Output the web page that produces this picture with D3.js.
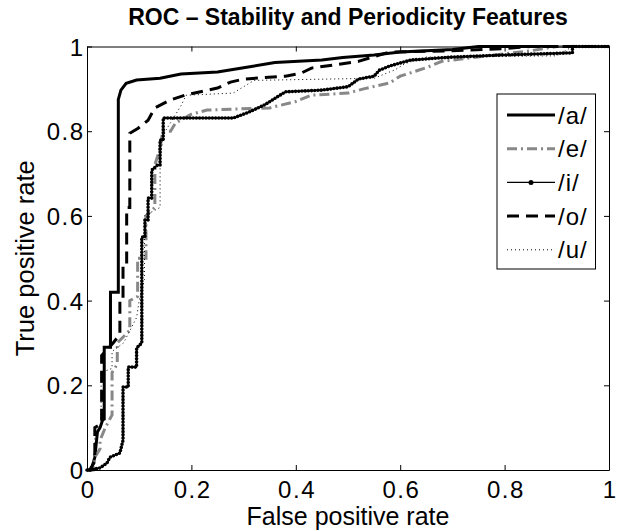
<!DOCTYPE html>
<html>
<head>
  <title>ROC - Stability and Periodicity Features</title>
  <script src="https://d3js.org/d3.v7.min.js"></script>
  <style>
    body { margin: 0; background: #fff; }
    text { font-family: "Liberation Sans", Arial, sans-serif; fill: #000; }
    .line { fill: none; }
  </style>
</head>
<body>
  <svg id="roc" width="619" height="531"></svg>

  <script>
    // ROC points [false positive rate, true positive rate]
    var rocA = [[0,0],[0.008,0],[0.015,0.03],[0.02,0.09],[0.025,0.1],[0.03,0.118],[0.033,0.12],[0.033,0.29],
      [0.045,0.29],[0.045,0.42],[0.06,0.42],[0.06,0.875],[0.065,0.897],[0.075,0.913],[0.095,0.921],[0.14,0.925],
      [0.18,0.935],[0.25,0.94],[0.3,0.95],[0.36,0.962],[0.45,0.968],[0.49,0.974],[0.55,0.98],[0.6,0.987],
      [0.7,0.993],[0.75,1],[1,1]];
    var rocE = [[0,0],[0.012,0],[0.015,0.03],[0.025,0.05],[0.025,0.07],[0.035,0.1],[0.048,0.13],[0.048,0.23],
      [0.058,0.25],[0.058,0.3],[0.082,0.33],[0.082,0.4],[0.097,0.41],[0.097,0.5],[0.113,0.5],[0.113,0.6],
      [0.13,0.62],[0.13,0.72],[0.14,0.76],[0.145,0.8],[0.16,0.8],[0.17,0.82],[0.2,0.84],[0.23,0.85],
      [0.35,0.855],[0.4,0.87],[0.43,0.885],[0.5,0.89],[0.53,0.9],[0.58,0.914],[0.6,0.93],[0.65,0.95],
      [0.68,0.965],[0.78,0.98],[0.85,0.99],[0.9,1],[1,1]];
    var rocI = [[0,0],[0.006,0],[0.025,0.005],[0.038,0.016],[0.044,0.03],[0.063,0.04],[0.069,0.07],[0.069,0.196],
      [0.079,0.196],[0.079,0.243],[0.095,0.243],[0.095,0.288],[0.105,0.3],[0.105,0.55],[0.111,0.55],[0.111,0.59],
      [0.117,0.59],[0.117,0.642],[0.124,0.642],[0.124,0.708],[0.135,0.72],[0.14,0.72],[0.14,0.779],[0.146,0.779],
      [0.146,0.831],[0.28,0.831],[0.31,0.845],[0.34,0.862],[0.38,0.893],[0.45,0.897],[0.5,0.905],[0.52,0.923],
      [0.55,0.93],[0.56,0.944],[0.58,0.954],[0.6,0.961],[0.62,0.968],[0.7,0.975],[0.8,0.98],[0.93,0.985],
      [0.93,1],[1,1]];
    var rocO = [[0,0],[0.005,0],[0.015,0.02],[0.015,0.1],[0.028,0.11],[0.028,0.27],[0.05,0.3],[0.063,0.32],
      [0.063,0.394],[0.069,0.394],[0.069,0.48],[0.076,0.48],[0.076,0.62],[0.082,0.62],[0.082,0.795],[0.098,0.807],
      [0.117,0.826],[0.13,0.855],[0.16,0.874],[0.19,0.886],[0.25,0.902],[0.275,0.916],[0.3,0.923],[0.38,0.93],
      [0.41,0.937],[0.43,0.949],[0.47,0.956],[0.52,0.965],[0.56,0.98],[0.58,0.987],[0.7,0.99],[0.8,0.995],
      [0.85,1],[1,1]];
    var rocU = [[0,0],[0.01,0],[0.015,0.05],[0.015,0.09],[0.027,0.1],[0.027,0.23],[0.048,0.24],[0.048,0.28],
      [0.07,0.3],[0.095,0.36],[0.1,0.4],[0.11,0.45],[0.11,0.6],[0.14,0.62],[0.14,0.73],[0.145,0.78],[0.15,0.8],
      [0.16,0.82],[0.18,0.86],[0.19,0.885],[0.28,0.89],[0.32,0.92],[0.55,0.925],[0.59,0.945],[0.61,0.96],
      [0.65,0.975],[0.9,0.978],[0.93,1],[1,1]];

    var seriesNames = ["/a/", "/e/", "/i/", "/o/", "/u/"];
    var xTicks = [0, 0.2, 0.4, 0.6, 0.8, 1];
    var yTicks = [0, 0.2, 0.4, 0.6, 0.8, 1];

    // line look for each vowel (matlab-ish styles)
    var styles = [
      { data: rocA, color: "#000", width: 3, dash: null },
      { data: rocE, color: "#888", width: 3, dash: "10,4,2,4" },
      { data: rocI, color: "#000", width: 1.2, dash: null, beads: true },
      { data: rocO, color: "#000", width: 3, dash: "12,7" },
      { data: rocU, color: "#000", width: 1, dash: "1,3" }
    ];

    // plot box in pixels
    var plotL = 87, plotR = 609, plotT = 46.5, plotB = 470;

    var svg = d3.select("#roc");

    var x = d3.scaleLinear().domain([0, 1]).range([plotL, plotR]);
    var y = d3.scaleLinear().domain([0, 1]).range([plotB, plotT]);

    var line = d3.line()
      .x(function(d) { return x(d[0]); })
      .y(function(d) { return y(d[1]); });

    // curves
    styles.forEach(function(s) {
      svg.append("path")
        .datum(s.data)
        .attr("class", "line")
        .attr("d", line)
        .style("stroke", s.color)
        .style("stroke-width", s.width)
        .style("stroke-dasharray", s.dash);
      if (s.beads) {
        // marker beads along the /i/ curve
        svg.append("path")
          .datum(s.data)
          .attr("class", "line")
          .attr("d", line)
          .style("stroke", s.color)
          .style("stroke-width", 3.6)
          .style("stroke-linecap", "round")
          .style("stroke-dasharray", "0,3.2");
      }
    });

    // axes, ticks pointing inward like matlab
    var fmt = d3.format("~g");
    var xAxis = svg.append("g")
      .attr("transform", "translate(0," + plotB + ")")
      .call(d3.axisBottom(x).tickValues(xTicks).tickSizeInner(-5).tickSizeOuter(0).tickFormat(fmt));
    var yAxis = svg.append("g")
      .attr("transform", "translate(" + plotL + ",0)")
      .call(d3.axisLeft(y).tickValues(yTicks).tickSizeInner(-5).tickSizeOuter(0).tickFormat(fmt));
    svg.append("g")
      .attr("transform", "translate(0," + plotT + ")")
      .call(d3.axisTop(x).tickValues(xTicks).tickSizeInner(-5).tickSizeOuter(0).tickFormat(""));
    svg.append("g")
      .attr("transform", "translate(" + plotR + ",0)")
      .call(d3.axisRight(y).tickValues(yTicks).tickSizeInner(-5).tickSizeOuter(0).tickFormat(""));

    svg.selectAll(".domain, .tick line").attr("stroke", "#000").attr("stroke-width", 1);

    xAxis.selectAll("text")
      .attr("dy", null).attr("y", 28).attr("dx", "0.75px")
      .style("font-size", "24px").style("letter-spacing", "1.5px").attr("font-family", null);
    yAxis.selectAll("text")
      .attr("dy", null).attr("y", 8.5).attr("x", -2.5)
      .style("font-size", "24px").style("letter-spacing", "1.5px").attr("font-family", null);

    // title and axis labels
    svg.append("text")
      .attr("x", (plotL + plotR) / 2).attr("y", 25)
      .attr("text-anchor", "middle")
      .style("font-size", "23px").style("font-weight", "bold")
      .text("ROC \u2013 Stability and Periodicity Features");

    svg.append("text")
      .attr("x", (plotL + plotR) / 2).attr("y", 525)
      .attr("text-anchor", "middle")
      .style("font-size", "25px")
      .text("False positive rate");

    svg.append("text")
      .attr("transform", "translate(34," + (plotT + plotB) / 2 + ") rotate(-90)")
      .attr("text-anchor", "middle")
      .style("font-size", "25.5px")
      .text("True positive rate");

    // legend
    var legend = svg.append("g").attr("class", "legend");
    legend.append("rect")
      .attr("x", 497).attr("y", 94)
      .attr("width", 98.5).attr("height", 175)
      .attr("fill", "#fff").attr("stroke", "#000").attr("stroke-width", 1);

    styles.forEach(function(s, i) {
      var ly = 115 + i * 33.7;
      legend.append("line")
        .attr("x1", 507).attr("x2", 555)
        .attr("y1", ly).attr("y2", ly)
        .style("stroke", s.color)
        .style("stroke-width", s.width)
        .style("stroke-dasharray", s.dash);
      if (s.beads) {
        legend.append("circle")
          .attr("cx", 531).attr("cy", ly).attr("r", 2.5)
          .attr("fill", s.color);
      }
      legend.append("text")
        .attr("x", 558).attr("y", ly + 8.5)
        .style("font-size", "24px").style("letter-spacing", "1px")
        .text(seriesNames[i]);
    });
  </script>
</body>
</html>
